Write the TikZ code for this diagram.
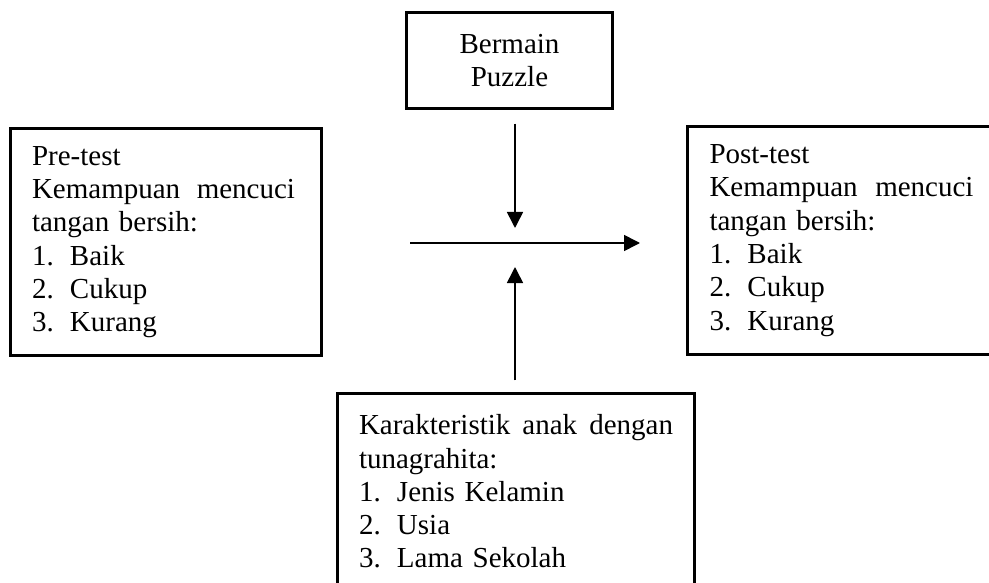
\documentclass[tikz,border=0pt]{standalone}
\usepackage{fontspec}
\setmainfont{Liberation Serif}
\usetikzlibrary{arrows.meta}
\newcommand{\jline}[3]{\leavevmode\hbox to #1{#2\hfill #3}}
\newcommand{\numit}[2]{\leavevmode\makebox[38pt][l]{#1}#2}
\begin{document}
\begin{tikzpicture}[x=1pt,y=-1pt,
  box/.style={draw, line width=3.4pt, rectangle, inner sep=0pt,
    font=\fontsize{29}{33.3}\selectfont},
  arr/.style={line width=1.6pt, -{Triangle[length=16pt,width=16pt]}}]
\useasboundingbox (0,0) rectangle (989,583);
\node[box, minimum width=206pt, minimum height=96pt, align=center] (top) at (509.5,60.5) {Bermain\\Puzzle};
\node[box, minimum width=311pt, minimum height=227pt, text width=268pt, align=left] (pre) at (166,242) {%
Pre-test\\
\jline{263pt}{Kemampuan}{mencuci}\\
tangan bersih:\\
\numit{1.}{Baik}\\
\numit{2.}{Cukup}\\
\numit{3.}{Kurang}};
\node[box, minimum width=308pt, minimum height=228pt, text width=264pt, align=left] (post) at (841.5,240.5) {%
Post-test\\
\jline{264pt}{Kemampuan}{mencuci}\\
tangan bersih:\\
\numit{1.}{Baik}\\
\numit{2.}{Cukup}\\
\numit{3.}{Kurang}};
\node[box, minimum width=357pt, minimum height=196pt, text width=314pt, align=left] (bot) at (516,491.5) {%
\leavevmode\hbox to 314pt{Karakteristik\hfill anak\hfill dengan}\\
tunagrahita:\\
\numit{1.}{Jenis Kelamin}\\
\numit{2.}{Usia}\\
\numit{3.}{Lama Sekolah}};
\coordinate (hs) at (410,243);
\coordinate (he) at (640,243);
\coordinate (dt) at (515,228);
\coordinate (ut) at (515,267);
\draw[arr] (hs) -- (he);
\draw[arr, shorten <=13.5pt] (dt |- top.south) -- (dt);
\draw[arr, shorten <=11.5pt] (ut |- bot.north) -- (ut);
\end{tikzpicture}
\end{document}
